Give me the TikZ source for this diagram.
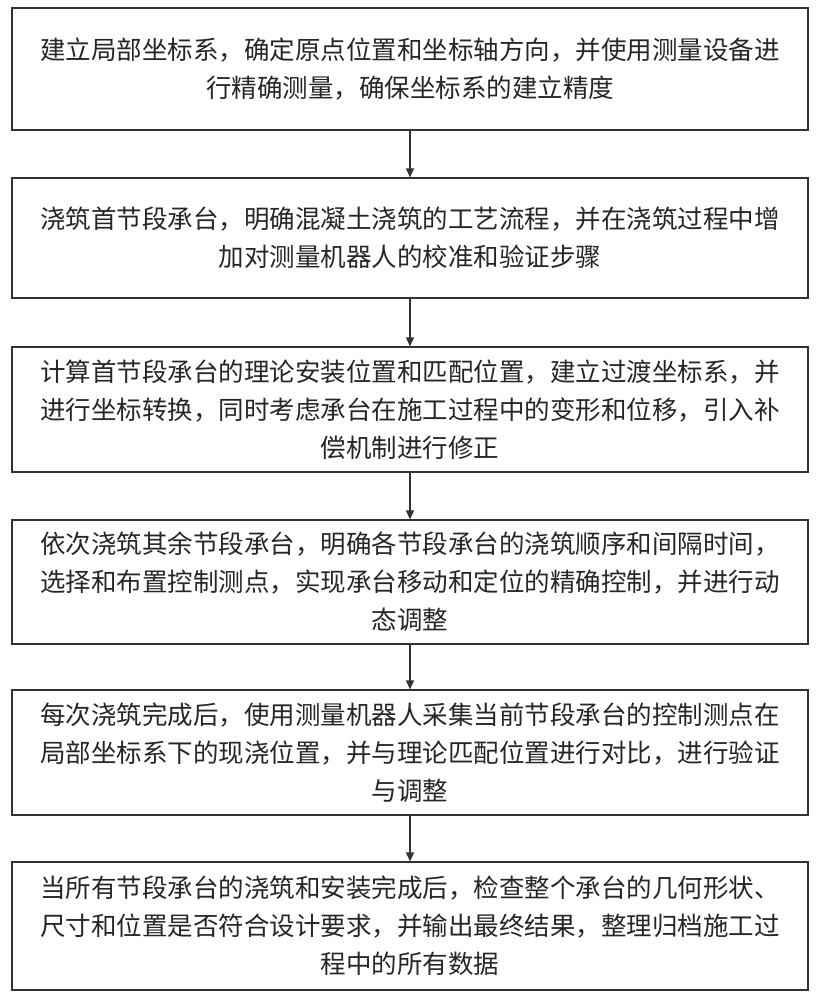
\documentclass[tikz,border=0pt]{standalone}
\usepackage{fontspec}
\setmainfont{Noto Sans CJK SC}
\usetikzlibrary{arrows.meta}
\begin{document}
\begin{tikzpicture}[x=1pt,y=-1pt,
  stepbox/.style={draw=black!80,line width=1.2pt,minimum width=796pt,inner sep=0pt,font=\fontsize{25.5}{38}\selectfont,align=center,text=black!85},
  arr/.style={-{Triangle[length=9pt,width=8pt]},line width=1.2pt,draw=black!80}]
\useasboundingbox (0,0) rectangle (818,1000);
\node[stepbox,minimum height=122pt] (a) at (410,69) {建立局部坐标系，确定原点位置和坐标轴方向，并使用测量设备进\\行精确测量，确保坐标系的建立精度};
\node[stepbox,minimum height=120pt] (b) at (410,238) {浇筑首节段承台，明确混凝土浇筑的工艺流程，并在浇筑过程中增\\加对测量机器人的校准和验证步骤};
\node[stepbox,minimum height=125pt] (c) at (410,409.5) {计算首节段承台的理论安装位置和匹配位置，建立过渡坐标系，并\\进行坐标转换，同时考虑承台在施工过程中的变形和位移，引入补\\偿机制进行修正};
\node[stepbox,minimum height=124pt] (d) at (410,582) {依次浇筑其余节段承台，明确各节段承台的浇筑顺序和间隔时间，\\选择和布置控制测点，实现承台移动和定位的精确控制，并进行动\\态调整};
\node[stepbox,minimum height=125pt] (e) at (410,752.5) {每次浇筑完成后，使用测量机器人采集当前节段承台的控制测点在\\局部坐标系下的现浇位置，并与理论匹配位置进行对比，进行验证\\与调整};
\node[stepbox,minimum height=128pt] (f) at (410,926) {当所有节段承台的浇筑和安装完成后，检查整个承台的几何形状、\\尺寸和位置是否符合设计要求，并输出最终结果，整理归档施工过\\程中的所有数据};
\draw[arr] (a) -- (b);
\draw[arr] (b) -- (c);
\draw[arr] (c) -- (d);
\draw[arr] (d) -- (e);
\draw[arr] (e) -- (f);
\end{tikzpicture}
\end{document}
